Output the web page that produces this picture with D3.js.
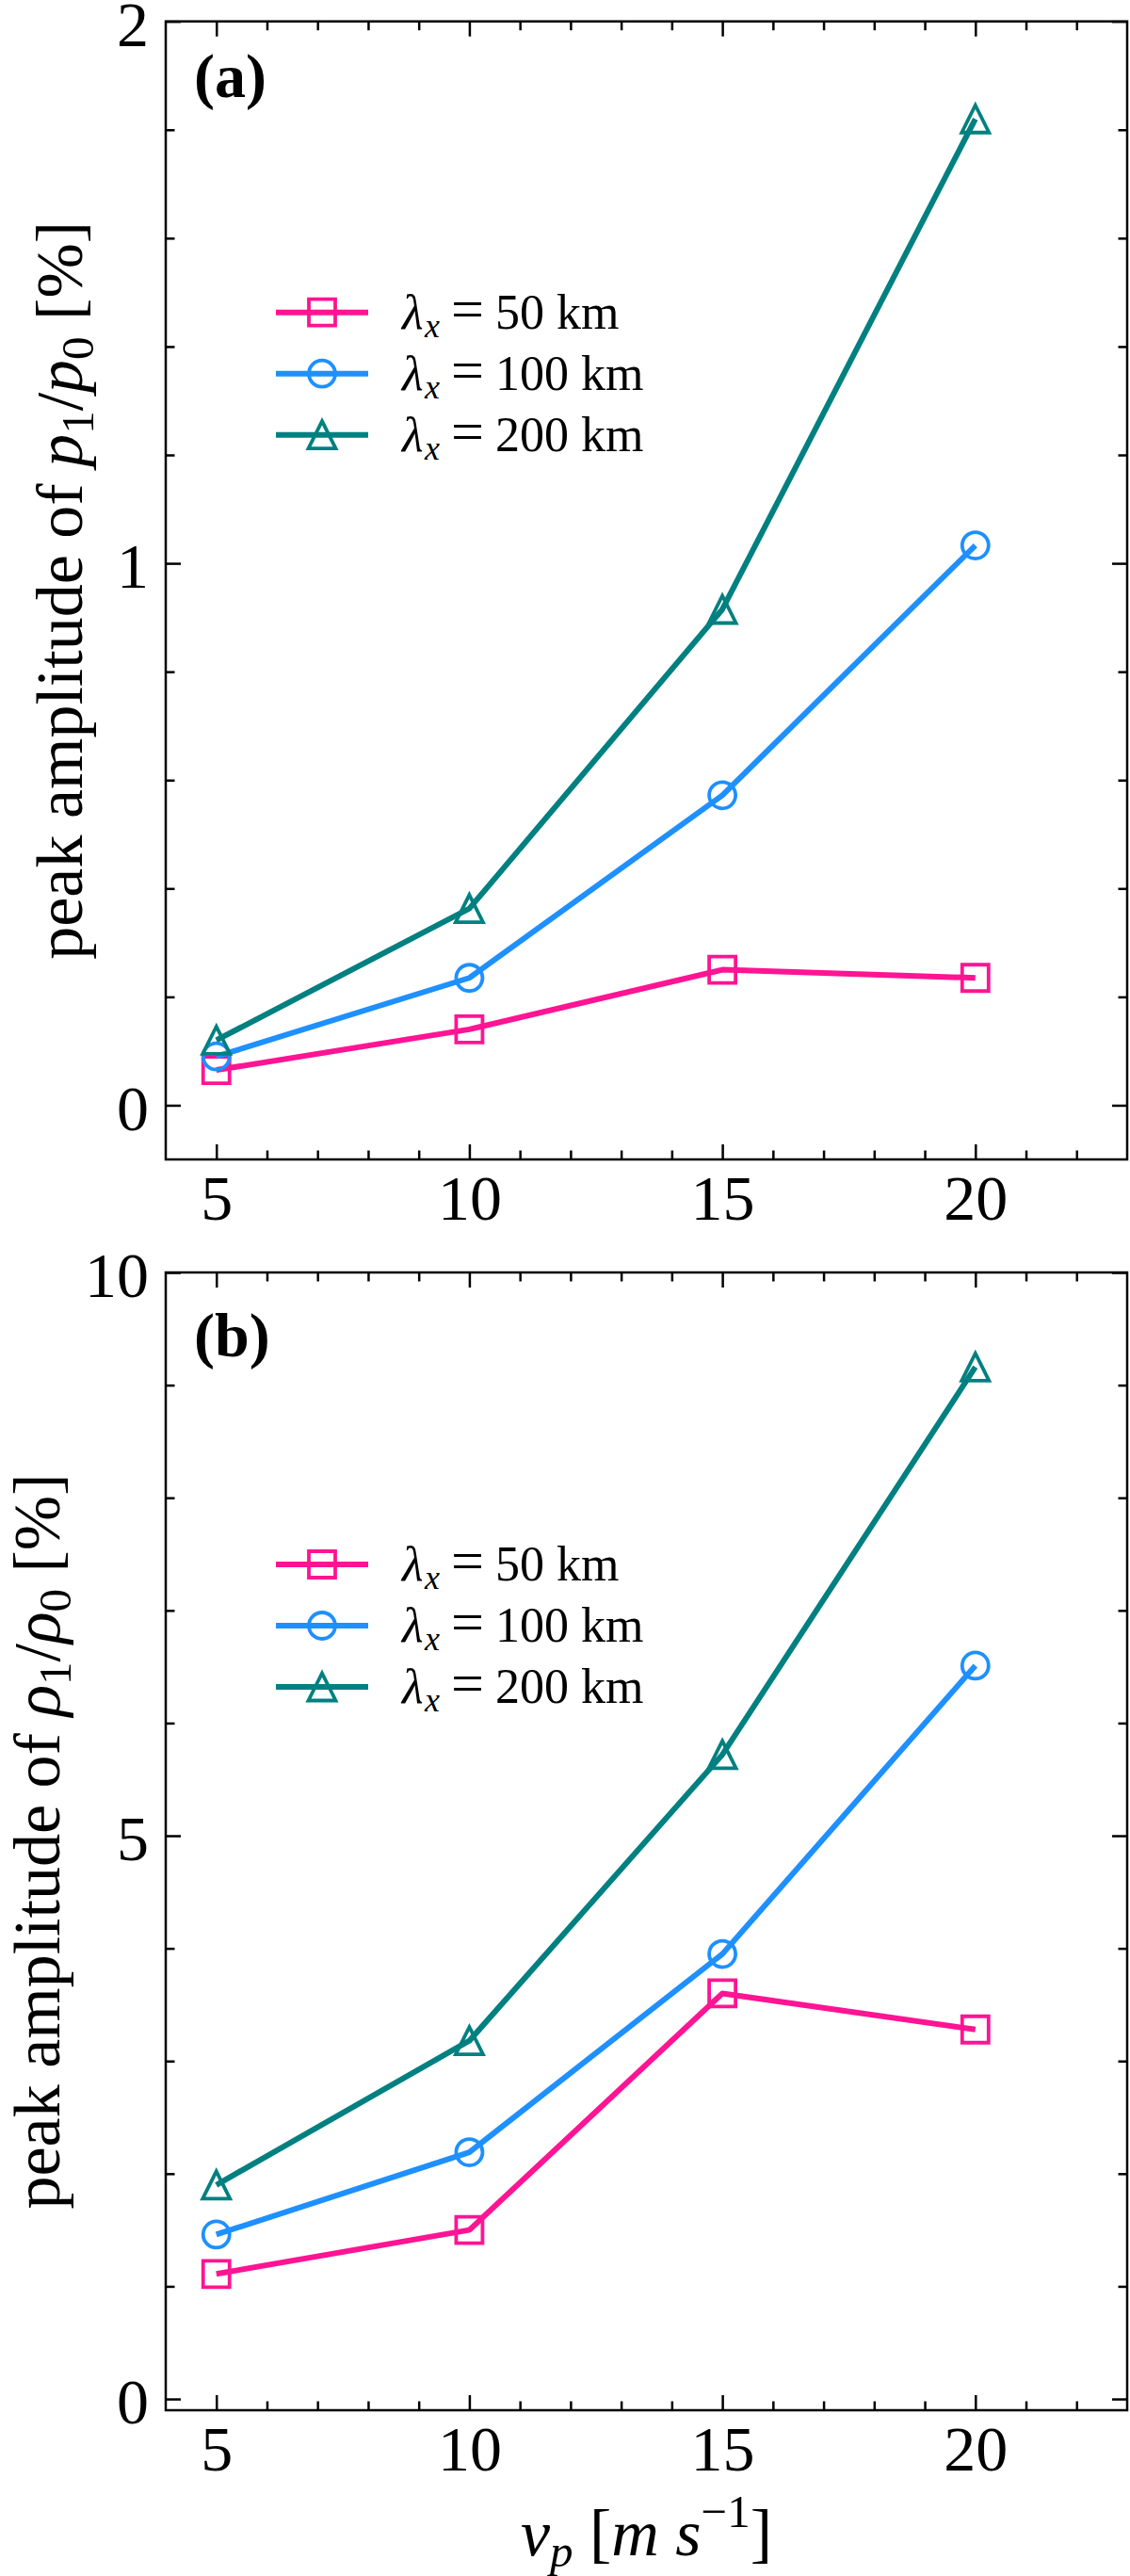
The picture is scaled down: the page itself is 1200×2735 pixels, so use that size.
<!DOCTYPE html>
<html>
<head>
<meta charset="utf-8">
<script src="https://cdn.jsdelivr.net/npm/d3@7"></script>
<style>
  body { margin: 0; background: #fff; }
  svg { display: block; }
</style>
</head>
<body>
<div id="chart"></div>
<script>
// x values (propagation speed, m/s)
const vp = [5, 10, 15, 20];
const xMajorTicks = [5, 10, 15, 20];

// legend / series
const wavelengths = ["50", "100", "200"];
const seriesColors = ["#ff1493", "#1e90ff", "#008080"];
const seriesMarkers = ["square", "circle", "triangle"];

// panel (a): peak amplitude of p1/p0 [%]
const pressure50 = [0.065, 0.14, 0.25, 0.235];
const pressure100 = [0.09, 0.235, 0.572, 1.033];
const pressure200 = [0.12, 0.363, 0.915, 1.82];
const pressureTicks = [0, 1, 2];

// panel (b): peak amplitude of rho1/rho0 [%]
const density50 = [1.11, 1.50, 3.60, 3.28];
const density100 = [1.46, 2.19, 3.95, 6.51];
const density200 = [1.90, 3.18, 5.72, 9.16];
const densityTicks = [0, 5, 10];

const width = 1200, height = 2735;
const left = 176, right = 1197;
const W = right - left;
const serif = "'Liberation Serif', 'Times New Roman', serif";

const svg = d3.select("#chart").append("svg")
    .attr("width", width)
    .attr("height", height)
    .style("background", "#fff");

// open triangle centred on its bounding box (like matplotlib '^')
const triangleUp = {
    draw(ctx, size) {
        const s = Math.sqrt(size) / 2;
        ctx.moveTo(0, -s);
        ctx.lineTo(s, s);
        ctx.lineTo(-s, s);
        ctx.closePath();
    }
};
const symbolFor = {
    square: d3.symbol().type(d3.symbolSquare).size(28 * 28),
    circle: d3.symbol().type(d3.symbolCircle).size(Math.PI * 14 * 14),
    triangle: d3.symbol().type(triangleUp).size(29 * 29)
};

function drawPanel(cfg) {
    const H = cfg.bottom - cfg.top;
    const g = svg.append("g").attr("transform", `translate(${left},${cfg.top})`);

    const x = d3.scaleLinear().domain([4, 23]).range([0, W]);
    const y = d3.scaleLinear().domain(cfg.yDomain).range([H, 0]);

    const xMinor = d3.range(5, 23).filter(v => !xMajorTicks.includes(v));
    const yMinor = cfg.yMinor.filter(v => !cfg.yTicks.some(t => Math.abs(t - v) < 1e-9));

    const styleAxis = sel => {
        sel.select(".domain").remove();
        sel.selectAll(".tick line").attr("stroke", "#000").attr("stroke-width", 2.5);
        sel.selectAll("text")
            .attr("fill", "#000")
            .style("font-family", serif)
            .style("font-size", "68px");
    };

    // minor ticks on all four sides (pointing inwards)
    g.append("g").attr("transform", `translate(0,${H})`)
        .call(d3.axisBottom(x).tickValues(xMinor).tickSize(-9.5).tickFormat("")).call(styleAxis);
    g.append("g")
        .call(d3.axisTop(x).tickValues(xMinor).tickSize(-9.5).tickFormat("")).call(styleAxis);
    g.append("g")
        .call(d3.axisLeft(y).tickValues(yMinor).tickSize(-9.5).tickFormat("")).call(styleAxis);
    g.append("g").attr("transform", `translate(${W},0)`)
        .call(d3.axisRight(y).tickValues(yMinor).tickSize(-9.5).tickFormat("")).call(styleAxis);

    // major ticks
    g.append("g").attr("transform", `translate(0,${H})`)
        .call(d3.axisBottom(x).tickValues(xMajorTicks).tickSize(-16).tickPadding(16)).call(styleAxis);
    g.append("g")
        .call(d3.axisTop(x).tickValues(xMajorTicks).tickSize(-16).tickFormat("")).call(styleAxis);
    const yAx = g.append("g")
        .call(d3.axisLeft(y).tickValues(cfg.yTicks).tickSize(-16).tickPadding(18).tickFormat(d3.format("d")))
        .call(styleAxis);
    yAx.selectAll("text").attr("dy", "0.38em");
    g.append("g").attr("transform", `translate(${W},0)`)
        .call(d3.axisRight(y).tickValues(cfg.yTicks).tickSize(-16).tickFormat("")).call(styleAxis);

    // frame
    g.append("rect")
        .attr("x", 0).attr("y", 0).attr("width", W).attr("height", H)
        .attr("fill", "none").attr("stroke", "#000").attr("stroke-width", 2.5);

    // series: line, then open markers
    const line = d3.line().x((d, i) => x(vp[i])).y(d => y(d));
    cfg.series.forEach((vals, k) => {
        g.append("path")
            .datum(vals)
            .attr("d", line)
            .attr("fill", "none")
            .attr("stroke", seriesColors[k])
            .attr("stroke-width", 6)
            .attr("stroke-linejoin", "round");
        g.selectAll(null)
            .data(vals)
            .enter().append("path")
            .attr("transform", (d, i) => `translate(${x(vp[i])},${y(d)})`)
            .attr("d", symbolFor[seriesMarkers[k]]())
            .attr("fill", "none")
            .attr("stroke", seriesColors[k])
            .attr("stroke-width", 3.8);
    });

    // panel tag
    g.append("text")
        .attr("x", 30).attr("y", cfg.tagY)
        .style("font-family", serif)
        .style("font-size", "66px")
        .style("font-weight", "bold")
        .text(cfg.tag);

    // legend
    const leg = g.append("g").attr("transform", `translate(0,${cfg.legendY})`);
    wavelengths.forEach((wl, k) => {
        const row = leg.append("g").attr("transform", `translate(0,${k * 65})`);
        row.append("line")
            .attr("x1", 117).attr("x2", 215).attr("y1", 0).attr("y2", 0)
            .attr("stroke", seriesColors[k]).attr("stroke-width", 6);
        row.append("path")
            .attr("transform", "translate(166,0)")
            .attr("d", symbolFor[seriesMarkers[k]]())
            .attr("fill", "none")
            .attr("stroke", seriesColors[k])
            .attr("stroke-width", 3.8);
        const t = row.append("text")
            .attr("y", 17)
            .style("font-family", serif)
            .style("font-size", "52px");
        t.append("tspan").attr("x", 251).style("font-style", "italic").text("λ");
        t.append("tspan").attr("x", 275).attr("dy", 9)
            .style("font-style", "italic").style("font-size", "36px").text("x");
        t.append("tspan").attr("x", 303).attr("dy", -9).style("font-size", "62px").text("=");
        t.append("tspan").attr("x", 350).text(wl + " km");
    });

    // y label
    const yl = svg.append("text")
        .attr("transform", `translate(${cfg.ylabelX},${cfg.top + H / 2}) rotate(-90)`)
        .attr("text-anchor", "middle")
        .style("font-family", serif)
        .style("font-size", "70px");
    yl.append("tspan").text("peak amplitude of ");
    yl.append("tspan").style("font-style", "italic").text(cfg.sym);
    yl.append("tspan").style("font-size", "49px").attr("dy", 12).text("1");
    yl.append("tspan").attr("dy", -12).text("/");
    yl.append("tspan").style("font-style", "italic").text(cfg.sym);
    yl.append("tspan").style("font-size", "49px").attr("dy", 12).text("0");
    yl.append("tspan").attr("dy", -12).text(" [%]");
}

drawPanel({
    top: 22.7, bottom: 1231,
    yDomain: [-0.1, 2], yTicks: pressureTicks,
    yMinor: d3.range(0, 2.0001, 0.2),
    series: [pressure50, pressure100, pressure200],
    tag: "(a)", tagY: 80, legendY: 309,
    ylabelX: 87, sym: "p"
});

drawPanel({
    top: 1351, bottom: 2559,
    yDomain: [-0.1, 10], yTicks: densityTicks,
    yMinor: d3.range(0, 10.0001, 1),
    series: [density50, density100, density200],
    tag: "(b)", tagY: 89, legendY: 310,
    ylabelX: 63, sym: "ρ"
});

// x label
const xl = svg.append("text")
    .attr("x", (left + right) / 2).attr("y", 2713)
    .attr("text-anchor", "middle")
    .style("font-family", serif)
    .style("font-size", "70px");
xl.append("tspan").style("font-style", "italic").text("v");
xl.append("tspan").style("font-style", "italic").style("font-size", "49px").attr("dy", 12).text("p");
xl.append("tspan").attr("dy", -12).text(" [");
xl.append("tspan").style("font-style", "italic").text("m s");
xl.append("tspan").style("font-size", "49px").attr("dy", -30).text("−1");
xl.append("tspan").attr("dy", 30).text("]");
</script>
</body>
</html>
